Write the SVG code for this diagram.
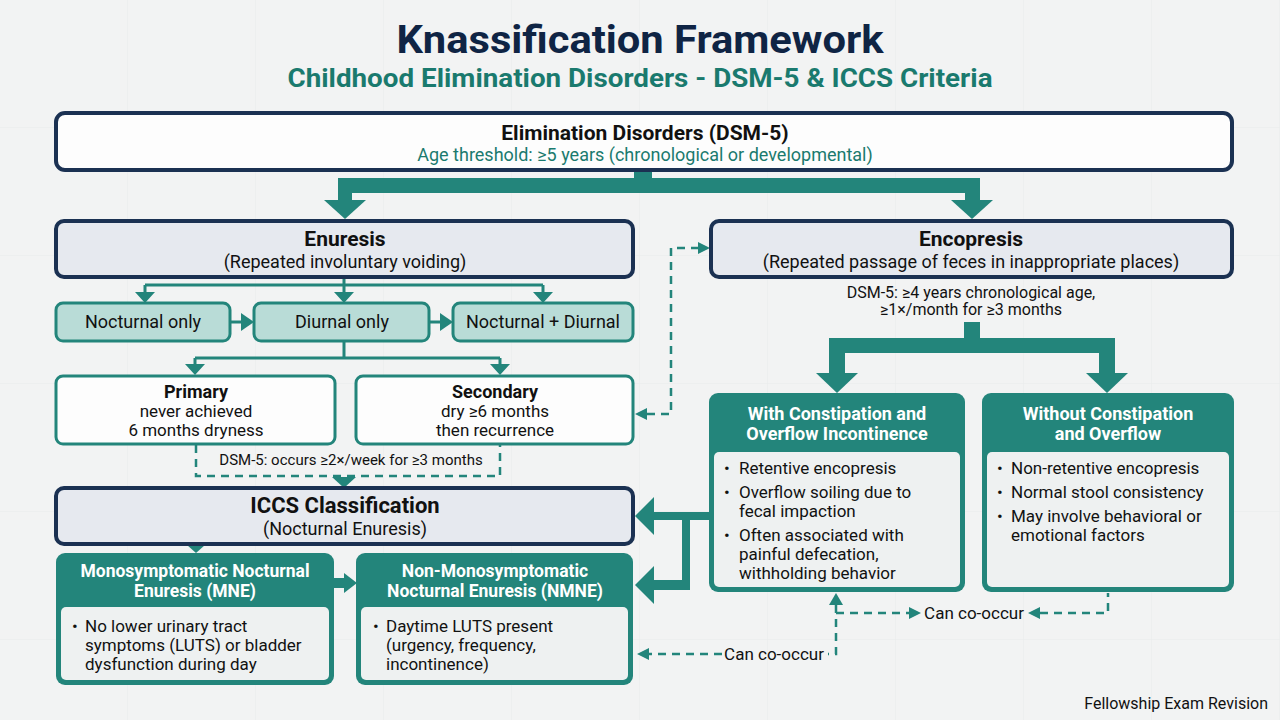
<svg xmlns="http://www.w3.org/2000/svg" width="1280" height="720" viewBox="0 0 1280 720">
<defs>
<pattern id="grid" width="128" height="128" patternUnits="userSpaceOnUse">
<path d="M128 0V128M0 128H128" fill="none" stroke="#e9ebeb" stroke-width="1"/>
</pattern>
</defs>
<style>
text{font-family:Roboto,"Liberation Sans",sans-serif;fill:#111;}
.c{text-anchor:middle;}
.b{font-weight:700;}
.navy{fill:none;stroke:#1b3152;stroke-width:4;}
.teal{fill:#23857b;}
.thin{fill:none;stroke:#23857b;stroke-width:3;}
.dash{fill:none;stroke:#23857b;stroke-width:2.5;stroke-dasharray:8 6;}
.lt{fill:#b9dcd7;stroke:#23857b;stroke-width:3;}
.wbox{fill:#fdfdfd;stroke:#23857b;stroke-width:3;}
.body{fill:#eef1f1;}
.hd{fill:#fff;font-weight:700;font-size:18px;text-anchor:middle;}
.t18{font-size:18px;}
.t17{font-size:17px;}
.t16{font-size:16px;}
</style>
<rect width="1280" height="720" fill="#f2f3f3"/>
<rect width="1280" height="720" fill="url(#grid)"/>

<g id="title">
<text x="640" y="53" class="c b" font-size="39" style="fill:#0f2444" textLength="487" lengthAdjust="spacingAndGlyphs">Knassification Framework</text>
<text x="640" y="87" class="c b" font-size="26" style="fill:#1a7a6e" textLength="705" lengthAdjust="spacingAndGlyphs">Childhood Elimination Disorders - DSM-5 &amp; ICCS Criteria</text>
</g>

<g id="connectors">
<!-- top thick -->
<rect x="634" y="168" width="18" height="14" class="teal"/>
<path d="M338 178H980V200H965V193H352V200H338Z" class="teal"/>
<path d="M324 200H366L345 219Z" class="teal"/>
<path d="M951 200H993L972 219Z" class="teal"/>
<!-- enuresis thin -->
<path d="M344 278V285M145 285H543M145 285V294M344 285V294M543 285V294" class="thin"/>
<path d="M135 292H155L145 303Z M334 292H354L344 303Z M533 292H553L543 303Z" class="teal"/>
<path d="M230 322H243" class="thin"/>
<path d="M241 313L254 322L241 331Z" class="teal"/>
<path d="M429 322H442" class="thin"/>
<path d="M440 313L453 322L440 331Z" class="teal"/>
<path d="M344 342V358M195 358H500M195 358V366M500 358V366" class="thin"/>
<path d="M185 364H205L195 375Z M490 364H510L500 375Z" class="teal"/>
<!-- dashed criteria bracket -->
<path d="M196 445V476H500V445" class="dash"/>
<path d="M332 477H356L344 488Z" class="teal"/>
<!-- ICCS to MNE small -->
<path d="M187 545H205L196 553Z" class="teal"/>
<!-- MNE -> NMNE -->
<path d="M334 583H346" stroke="#23857b" stroke-width="10"/>
<path d="M344 573L357 583L344 593Z" class="teal"/>
<!-- Secondary <-> Encopresis dashed -->
<path d="M699 248H671V414H646" class="dash"/>
<path d="M698 242L710 248L698 254Z" class="teal"/>
<path d="M647 408L635 414L647 420Z" class="teal"/>
<!-- encopresis thick -->
<rect x="964" y="322" width="16" height="18" class="teal"/>
<path d="M829 338H1115V374H1099V353H845V374H829Z" class="teal"/>
<path d="M816 373H858L837 393Z" class="teal"/>
<path d="M1086 373H1128L1107 393Z" class="teal"/>
<!-- With constipation to ICCS / NMNE thick -->
<rect x="652" y="512" width="58" height="8" class="teal"/>
<rect x="682" y="512" width="8" height="78" class="teal"/>
<rect x="652" y="580" width="38" height="10" class="teal"/>
<path d="M654 497V535L635 516Z" class="teal"/>
<path d="M654 566V604L635 585Z" class="teal"/>
<!-- can co-occur -->
<path d="M836 605V654H828" class="dash"/>
<path d="M829 605L836 593L843 605Z" class="teal"/>
<path d="M836 613H910" class="dash"/>
<path d="M909 607L921 613L909 619Z" class="teal"/>
<path d="M1040 613H1108V593" class="dash"/>
<path d="M1040 607L1028 613L1040 619Z" class="teal"/>
<path d="M722 654H648" class="dash"/>
<path d="M649 648L637 654L649 660Z" class="teal"/>
</g>

<g id="root">
<rect x="56" y="113" width="1176" height="57" rx="9" class="navy" style="fill:#fdfdfd"/>
<text x="645" y="140" class="c b" font-size="21">Elimination Disorders (DSM-5)</text>
<text x="645" y="161" class="c" font-size="18" style="fill:#1a7a6e">Age threshold: ≥5 years (chronological or developmental)</text>
</g>

<g id="enuresis">
<rect x="56" y="221" width="577" height="56" rx="8" class="navy" style="fill:#e6e9ef"/>
<text x="345" y="246" class="c b" font-size="21">Enuresis</text>
<text x="345" y="268" class="c t18">(Repeated involuntary voiding)</text>
</g>

<g id="encopresis">
<rect x="711" y="221" width="521" height="56" rx="8" class="navy" style="fill:#e6e9ef"/>
<text x="971" y="246" class="c b" font-size="21">Encopresis</text>
<text x="971" y="268" class="c t18">(Repeated passage of feces in inappropriate places)</text>
<text x="971" y="298" class="c t16">DSM-5: ≥4 years chronological age,</text>
<text x="971" y="315" class="c t16">≥1×/month for ≥3 months</text>
</g>

<g id="nocturnal-only">
<rect x="56" y="303" width="174" height="38" rx="7" class="lt"/>
<text x="143" y="328" class="c t18">Nocturnal only</text>
</g>
<g id="diurnal-only">
<rect x="254" y="303" width="175" height="38" rx="7" class="lt"/>
<text x="342" y="328" class="c t18">Diurnal only</text>
</g>
<g id="nocturnal-diurnal">
<rect x="453" y="303" width="180" height="38" rx="7" class="lt"/>
<text x="543" y="328" class="c t18">Nocturnal + Diurnal</text>
</g>

<g id="primary">
<rect x="56" y="376" width="279" height="68" rx="7" class="wbox"/>
<text x="196" y="398" class="c b t18">Primary</text>
<text x="196" y="417" class="c t17">never achieved</text>
<text x="196" y="436" class="c t17">6 months dryness</text>
</g>
<g id="secondary">
<rect x="356" y="376" width="277" height="68" rx="7" class="wbox"/>
<text x="495" y="398" class="c b t18">Secondary</text>
<text x="495" y="417" class="c t17">dry ≥6 months</text>
<text x="495" y="436" class="c t17">then recurrence</text>
</g>
<text x="351" y="465" class="c" font-size="15">DSM-5: occurs ≥2×/week for ≥3 months</text>

<g id="iccs">
<rect x="56" y="488" width="577" height="56" rx="8" class="navy" style="fill:#e6e9ef"/>
<text x="345" y="513" class="c b" font-size="22">ICCS Classification</text>
<text x="345" y="535" class="c t18">(Nocturnal Enuresis)</text>
</g>

<g id="mne">
<rect x="56" y="553" width="278" height="132" rx="9" class="teal"/>
<rect x="61" y="607" width="268" height="73" rx="5" class="body"/>
<text x="195" y="577" class="hd" style="font-size:17.5px">Monosymptomatic Nocturnal</text>
<text x="195" y="597" class="hd" style="font-size:17.5px">Enuresis (MNE)</text>
<text x="72" y="632" class="t17">•</text>
<text x="85" y="632" class="t17">No lower urinary tract</text>
<text x="85" y="651" class="t17">symptoms (LUTS) or bladder</text>
<text x="85" y="670" class="t17">dysfunction during day</text>
</g>

<g id="nmne">
<rect x="356" y="553" width="277" height="132" rx="9" class="teal"/>
<rect x="361" y="607" width="267" height="73" rx="5" class="body"/>
<text x="495" y="577" class="hd" style="font-size:17.5px">Non-Monosymptomatic</text>
<text x="495" y="597" class="hd" style="font-size:17.5px">Nocturnal Enuresis (NMNE)</text>
<text x="373" y="632" class="t17">•</text>
<text x="386" y="632" class="t17">Daytime LUTS present</text>
<text x="386" y="651" class="t17">(urgency, frequency,</text>
<text x="386" y="670" class="t17">incontinence)</text>
</g>

<g id="with-constipation">
<rect x="709" y="393" width="256" height="199" rx="9" class="teal"/>
<rect x="714" y="452" width="246" height="135" rx="5" class="body"/>
<text x="837" y="420" class="hd">With Constipation and</text>
<text x="837" y="440" class="hd">Overflow Incontinence</text>
<text x="724" y="474" class="t17">•</text>
<text x="739" y="474" class="t17">Retentive encopresis</text>
<text x="724" y="498" class="t17">•</text>
<text x="739" y="498" class="t17">Overflow soiling due to</text>
<text x="739" y="517" class="t17">fecal impaction</text>
<text x="724" y="541" class="t17">•</text>
<text x="739" y="541" class="t17">Often associated with</text>
<text x="739" y="560" class="t17">painful defecation,</text>
<text x="739" y="579" class="t17">withholding behavior</text>
</g>

<g id="without-constipation">
<rect x="982" y="393" width="252" height="199" rx="9" class="teal"/>
<rect x="987" y="452" width="242" height="135" rx="5" class="body"/>
<text x="1108" y="420" class="hd">Without Constipation</text>
<text x="1108" y="440" class="hd">and Overflow</text>
<text x="997" y="474" class="t17">•</text>
<text x="1011" y="474" class="t17">Non-retentive encopresis</text>
<text x="997" y="498" class="t17">•</text>
<text x="1011" y="498" class="t17">Normal stool consistency</text>
<text x="997" y="522" class="t17">•</text>
<text x="1011" y="522" class="t17">May involve behavioral or</text>
<text x="1011" y="541" class="t17">emotional factors</text>
</g>

<g id="labels">
<text x="974" y="619" class="c t17">Can co-occur</text>
<text x="774" y="660" class="c t17">Can co-occur</text>
<text x="1268" y="709" text-anchor="end" font-size="16">Fellowship Exam Revision</text>
</g>
</svg>
